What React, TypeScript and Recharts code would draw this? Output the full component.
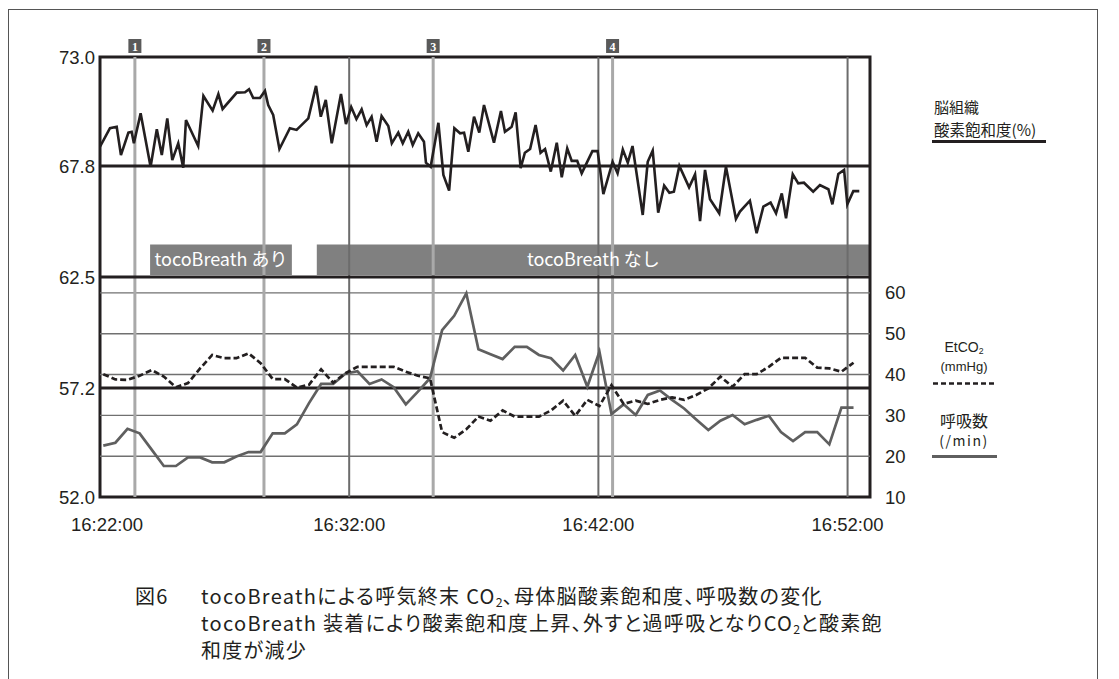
import React from 'react';
import {
  ComposedChart,
  Line,
  XAxis,
  YAxis,
  ReferenceLine,
  ReferenceArea,
} from 'recharts';

// ---- axes ----
const clockTicks = [0, 10, 20, 30]; // minutes after 16:22:00
const clockLabels = ['16:22:00', '16:32:00', '16:42:00', '16:52:00'];
const o2Ticks = [52, 57.2, 62.5, 67.8, 73];
const o2Bands = [57.2, 62.5, 67.8];
const rateTicks = [10, 20, 30, 40, 50, 60];

// ---- brain tissue oxygen saturation (%) ----
const o2Minutes = [
  0.0, 0.4, 0.67, 0.84, 1.14, 1.27, 1.36, 1.63, 2.03, 2.28,
  2.48, 2.7, 2.9, 3.14, 3.34, 3.45, 3.94, 4.15, 4.52, 4.75,
  4.92, 5.49, 5.82, 5.98, 6.15, 6.42, 6.62, 6.75, 6.95, 7.2,
  7.62, 7.89, 8.36, 8.67, 8.86, 9.06, 9.3, 9.67, 9.87, 10.08,
  10.29, 10.5, 10.7, 10.9, 11.1, 11.3, 11.57, 11.71, 11.97, 12.15,
  12.37, 12.55, 12.77, 13.0, 13.08, 13.27, 13.58, 13.78, 14.01, 14.22,
  14.45, 14.61, 14.78, 15.01, 15.22, 15.41, 15.81, 16.09, 16.25, 16.52,
  16.68, 16.88, 17.05, 17.26, 17.48, 17.68, 17.86, 18.09, 18.33, 18.53,
  18.75, 18.93, 19.15, 19.33, 19.76, 19.97, 20.2, 20.57, 20.77, 20.98,
  21.18, 21.37, 21.78, 21.98, 22.18, 22.4, 22.64, 22.85, 23.03, 23.25,
  23.64, 23.88, 24.08, 24.28, 24.48, 24.85, 25.12, 25.52, 25.68, 26.08,
  26.35, 26.62, 26.91, 27.13, 27.36, 27.53, 27.8, 28.02, 28.25, 28.62,
  28.89, 29.23, 29.39, 29.63, 29.86, 29.99, 30.23, 30.47,
];
const o2Values = [
  68.72, 69.6, 69.67, 68.32, 69.39, 69.43, 68.88, 70.31, 67.76, 69.55,
  68.32, 70.07, 68.08, 68.88, 67.72, 69.99, 68.75, 71.14, 70.44, 71.23,
  70.52, 71.3, 71.32, 71.46, 71.04, 71.04, 71.38, 70.71, 70.23, 68.61,
  69.6, 69.52, 70.07, 71.62, 70.15, 70.95, 68.88, 71.23, 69.8, 70.61,
  70.04, 70.5, 69.75, 70.15, 68.96, 70.18, 69.71, 68.88, 69.39, 68.88,
  69.43, 68.8, 69.36, 68.96, 67.96, 67.76, 69.86, 67.37, 66.62, 69.6,
  69.36, 69.39, 68.48, 70.15, 69.39, 70.71, 68.91, 70.42, 69.43, 69.67,
  70.36, 67.69, 68.43, 68.61, 69.75, 68.43, 68.61, 67.53, 68.91, 67.26,
  68.64, 68.04, 68.04, 67.45, 68.51, 68.51, 66.46, 68.0, 67.45, 68.58,
  67.96, 68.75, 65.46, 68.0, 68.53, 65.57, 66.86, 66.52, 66.57, 67.8,
  66.78, 67.4, 65.17, 67.61, 66.21, 65.54, 67.76, 65.27, 65.62, 66.14,
  64.59, 65.86, 66.05, 65.54, 66.49, 65.3, 67.4, 66.97, 67.0, 66.57,
  66.89, 66.69, 65.97, 67.42, 67.61, 65.97, 66.6, 66.6,
];

// ---- EtCO2 (mmHg) and respiratory rate (/min), one reading per ~29 s ----
const vitalsStart = 0.132;
const vitalsStep = 0.4856;
const etco2Values = [
  40.1, 38.8, 38.7, 39.7, 41.1, 39.5, 36.9, 37.9, 41.5, 44.8,
  44.0, 44.0, 45.2, 42.8, 38.9, 38.9, 36.8, 37.5, 41.3, 38.0,
  40.3, 41.9, 41.9, 41.9, 41.9, 40.7, 39.7, 39.1, 25.9, 24.5,
  26.6, 29.7, 28.7, 31.2, 29.7, 29.7, 29.7, 31.2, 33.6, 29.9,
  33.8, 32.3, 37.4, 32.8, 33.6, 32.8, 33.8, 34.4, 33.8, 35.0,
  36.6, 39.5, 37.0, 40.1, 40.1, 41.9, 44.1, 44.1, 44.1, 41.7,
  41.5, 40.7, 42.9,
];
const respValues = [
  22.6, 23.3, 26.7, 25.6, 21.6, 17.6, 17.6, 19.7, 19.7, 18.5,
  18.5, 19.9, 21.0, 21.0, 25.6, 25.6, 27.8, 33.0, 37.7, 37.7,
  40.2, 40.8, 37.7, 38.8, 36.9, 32.7, 35.8, 39.1, 50.9, 54.4,
  59.9, 46.2, 45.0, 43.8, 46.8, 46.8, 44.8, 44.0, 41.0, 44.8,
  37.0, 45.6, 30.3, 32.7, 30.1, 35.0, 36.1, 33.8, 31.7, 29.0,
  26.4, 28.7, 30.1, 27.8, 28.9, 29.9, 25.9, 23.7, 25.9, 25.9,
  22.9, 31.9, 31.9,
];

// ---- events and device periods ----
const eventMinutes = [1.4, 6.58, 13.37, 20.57];
const eventLabels = ['1', '2', '3', '4'];
const periodStarts = [2.01, 8.7];
const periodEnds = [7.7, 30.9];
const periodLabels = ['tocoBreath あり', 'tocoBreath なし'];

const o2Data = o2Minutes.map((t, i) => ({ t, o2: o2Values[i] }));
const vitalsData = etco2Values.map((v, i) => ({
  t: +(vitalsStart + i * vitalsStep).toFixed(3),
  etco2: v,
  resp: respValues[i],
}));

const INK = '#231f20';
const SANS = '"Liberation Sans", Arial, sans-serif';
const JP = '"Noto Sans CJK JP", "Noto Sans", sans-serif';
const X_MAX = 30.9;
const TICK_FONT = 18.5;

const ClockTick = (props: any) => {
  const { x, y, payload } = props;
  const idx = clockTicks.indexOf(payload.value);
  return (
    <text
      x={idx === 0 ? x + 7 : x}
      y={y}
      dy="0.71em"
      textAnchor="middle"
      fontSize={TICK_FONT}
      fontFamily={SANS}
      fill={INK}
    >
      {clockLabels[idx]}
    </text>
  );
};

const EventTag = (props: any) => {
  const { viewBox, text } = props;
  if (!viewBox) return null;
  const cx = viewBox.x;
  const top = viewBox.y;
  return (
    <g>
      <rect x={cx - 6.5} y={top - 18} width={13} height={14} fill="#5a5a5a" />
      <text
        x={cx}
        y={top - 6.5}
        textAnchor="middle"
        fontSize={12}
        fontWeight="bold"
        fontFamily='"Liberation Serif", serif'
        fill="#ffffff"
      >
        {text}
      </text>
    </g>
  );
};

const Sub2 = () => (
  <span style={{ fontSize: '0.62em', position: 'relative', top: '0.25em', letterSpacing: 0 }}>2</span>
);

const captionStyle: React.CSSProperties = {
  position: 'absolute',
  fontFamily: JP,
  fontSize: 20,
  lineHeight: '23px',
  letterSpacing: 1.3,
  fontFeatureSettings: '"palt"',
  color: INK,
  whiteSpace: 'nowrap',
};

export default function App() {
  return (
    <div style={{ position: 'absolute', left: 0, top: 0, width: 1119, height: 679, background: '#fff', overflow: 'hidden' }}>
      <div
        style={{
          position: 'absolute',
          left: 8,
          top: 9,
          width: 1090,
          height: 700,
          borderTop: '1.5px solid #555',
          borderLeft: '1.5px solid #555',
          borderRight: '1.5px solid #555',
          boxSizing: 'border-box',
        }}
      />
      <div style={{ position: 'absolute', left: 0, top: 0 }}>
        <ComposedChart width={1119} height={679} margin={{ top: 57, right: 189, bottom: 142, left: 40 }}>
          <XAxis
            type="number"
            dataKey="t"
            domain={[0, X_MAX]}
            ticks={clockTicks}
            allowDataOverflow
            tick={<ClockTick />}
            tickLine={false}
            axisLine={false}
            tickSize={0}
            tickMargin={21}
            height={40}
          />
          <YAxis
            yAxisId="left"
            type="number"
            domain={[52, 73]}
            ticks={o2Ticks}
            allowDataOverflow
            tickFormatter={(v: number) => v.toFixed(1)}
            tick={{ fontSize: TICK_FONT, fontFamily: SANS, fill: INK }}
            tickLine={false}
            axisLine={false}
            tickSize={0}
            tickMargin={5}
            width={60}
          />
          <YAxis
            yAxisId="right"
            orientation="right"
            type="number"
            domain={[10, 117.8]}
            ticks={rateTicks}
            allowDataOverflow
            tick={{ fontSize: TICK_FONT, fontFamily: SANS, fill: INK, textAnchor: 'start' }}
            tickLine={false}
            axisLine={false}
            tickSize={0}
            tickMargin={15}
            width={60}
          />

          {rateTicks.slice(1).map((v) => (
            <ReferenceLine key={`r${v}`} yAxisId="right" y={v} stroke="#707070" strokeWidth={1.4} />
          ))}
          {clockTicks.slice(1).map((v) => (
            <ReferenceLine key={`c${v}`} yAxisId="left" x={v} stroke="#6c6c6c" strokeWidth={2} />
          ))}
          {eventMinutes.map((v, i) => (
            <ReferenceLine
              key={`e${v}`}
              yAxisId="left"
              x={v}
              stroke="#a9a9a9"
              strokeWidth={3}
              label={(p: any) => <EventTag viewBox={p.viewBox} text={eventLabels[i]} />}
            />
          ))}
          {o2Bands.map((v) => (
            <ReferenceLine key={`b${v}`} yAxisId="left" y={v} stroke={INK} strokeWidth={3} />
          ))}
          {periodStarts.map((s, i) => (
            <ReferenceArea
              key={`p${i}`}
              yAxisId="left"
              x1={s}
              x2={periodEnds[i]}
              y1={62.6}
              y2={64.05}
              fill="#808080"
              fillOpacity={1}
              stroke="none"
              label={{
                value: periodLabels[i],
                position: 'center',
                fill: '#ffffff',
                fontSize: 18,
                fontFamily: JP,
              }}
            />
          ))}
          <ReferenceArea
            yAxisId="left"
            x1={0}
            x2={X_MAX}
            y1={52}
            y2={73}
            fill="none"
            stroke={INK}
            strokeWidth={3}
          />

          <Line
            data={vitalsData}
            yAxisId="right"
            dataKey="resp"
            type="linear"
            stroke="#5f5f5f"
            strokeWidth={2.7}
            dot={false}
            activeDot={false}
            isAnimationActive={false}
          />
          <Line
            data={vitalsData}
            yAxisId="right"
            dataKey="etco2"
            type="linear"
            stroke={INK}
            strokeWidth={2.7}
            strokeDasharray="6 3"
            dot={false}
            activeDot={false}
            isAnimationActive={false}
          />
          <Line
            data={o2Data}
            yAxisId="left"
            dataKey="o2"
            type="linear"
            stroke={INK}
            strokeWidth={2.6}
            dot={false}
            activeDot={false}
            isAnimationActive={false}
          />
        </ComposedChart>
      </div>

      {/* series key */}
      <div style={{ position: 'absolute', left: 934, top: 96, fontFamily: JP, fontSize: 15, lineHeight: '22px', color: INK, whiteSpace: 'nowrap' }}>
        脳組織
      </div>
      <div style={{ position: 'absolute', left: 934, top: 118, fontFamily: JP, fontSize: 15.5, lineHeight: '22px', color: INK, whiteSpace: 'nowrap' }}>
        酸素飽和度(%)
      </div>
      <div style={{ position: 'absolute', left: 932, top: 139.5, width: 114, height: 3, background: INK }} />

      <div style={{ position: 'absolute', left: 914, width: 100, top: 337, textAlign: 'center', fontFamily: SANS, fontSize: 14, lineHeight: '20px', color: INK }}>
        EtCO<Sub2 />
      </div>
      <div style={{ position: 'absolute', left: 914, width: 100, top: 357, textAlign: 'center', fontFamily: SANS, fontSize: 13, lineHeight: '20px', color: INK }}>
        (mmHg)
      </div>
      <svg style={{ position: 'absolute', left: 933, top: 381 }} width={64} height={5}>
        <line x1={0} y1={2.5} x2={62} y2={2.5} stroke={INK} strokeWidth={2.7} strokeDasharray="5 3" />
      </svg>

      <div style={{ position: 'absolute', left: 914, width: 100, top: 410, textAlign: 'center', fontFamily: JP, fontSize: 16, lineHeight: '20px', color: INK }}>
        呼吸数
      </div>
      <div style={{ position: 'absolute', left: 914, width: 100, top: 430, textAlign: 'center', fontFamily: JP, fontSize: 14, lineHeight: '20px', color: INK, letterSpacing: 1.5 }}>
        (/min)
      </div>
      <div style={{ position: 'absolute', left: 932, top: 455, width: 65, height: 3, background: '#5f5f5f' }} />

      {/* caption */}
      <div style={{ ...captionStyle, left: 135, top: 583.5 }}>図6</div>
      <div style={{ ...captionStyle, left: 201, top: 583.5 }}>
        <div>tocoBreathによる呼気終末 CO<Sub2 />、母体脳酸素飽和度、呼吸数の変化</div>
        <div>tocoBreath 装着により酸素飽和度上昇、外すと過呼吸となりCO<Sub2 />と酸素飽</div>
        <div>和度が減少</div>
      </div>
    </div>
  );
}
